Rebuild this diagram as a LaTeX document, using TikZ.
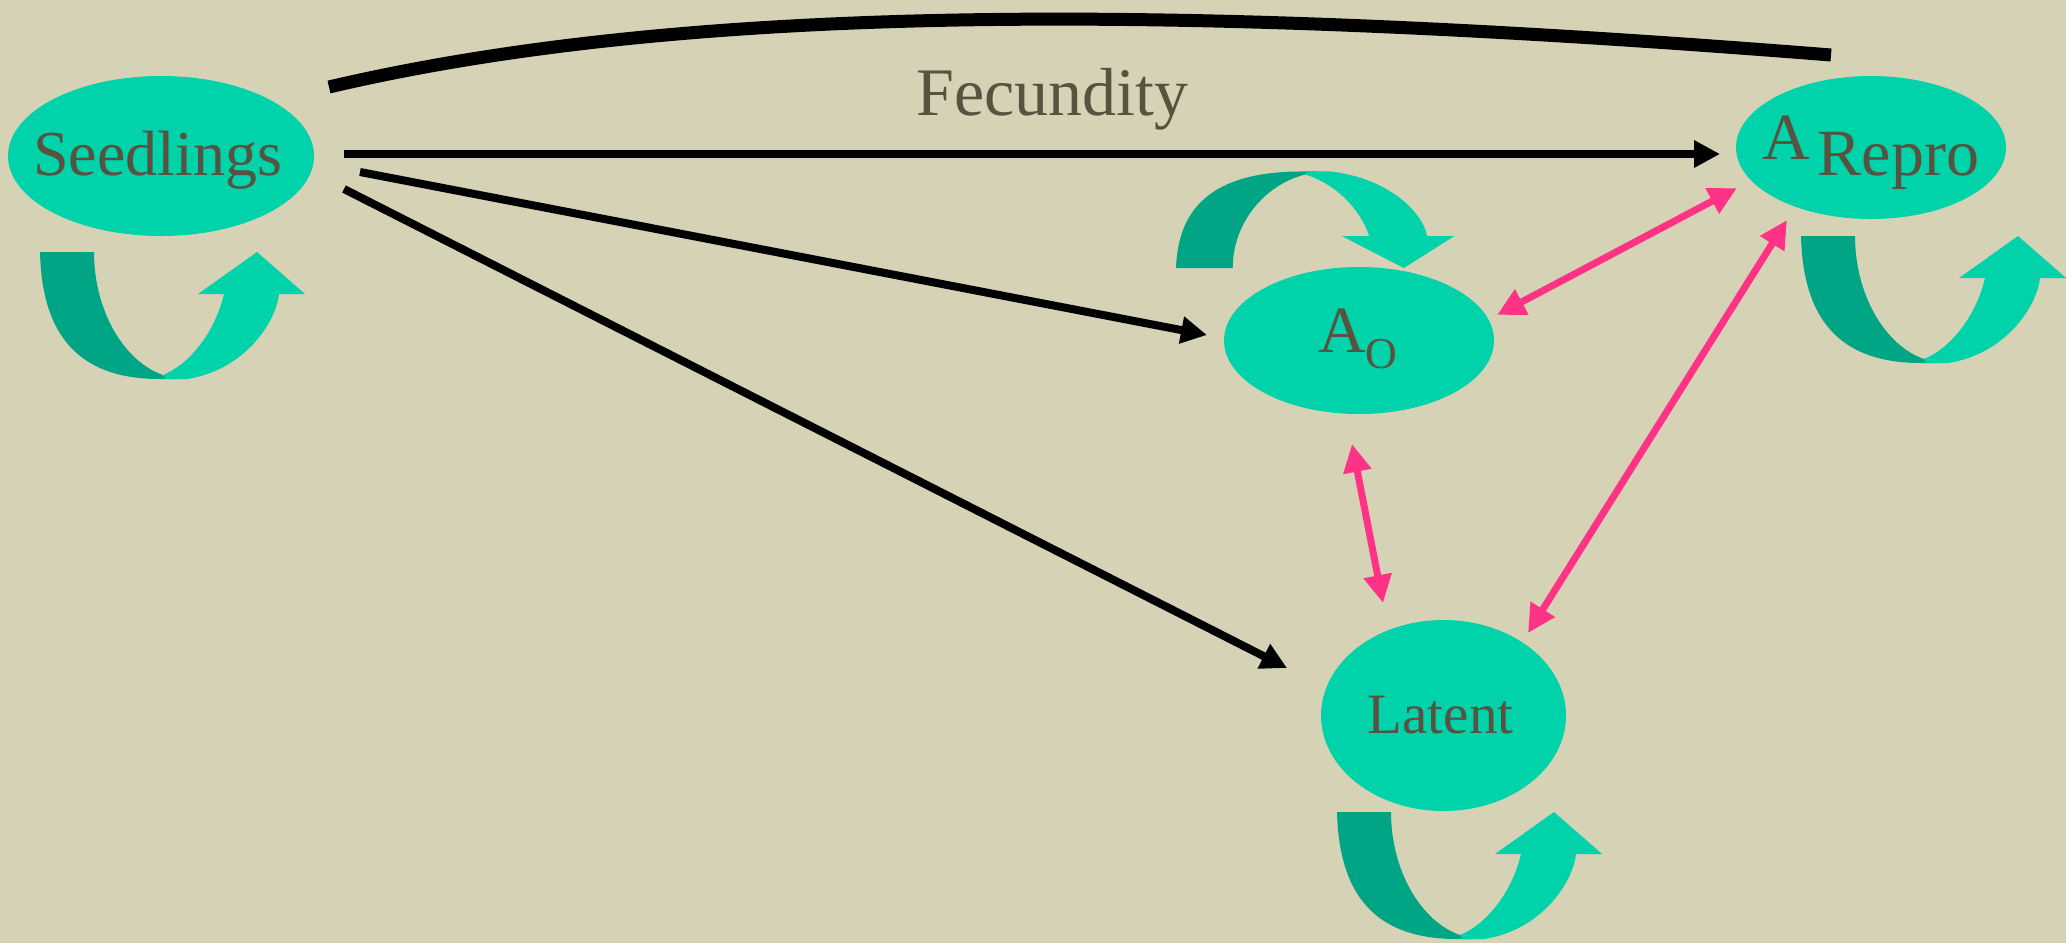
\documentclass[tikz,border=0pt]{standalone}
\usepackage{fontspec}
\setmainfont{Liberation Serif}
\usetikzlibrary{shapes.geometric,arrows.meta}

\definecolor{bgpaper}{RGB}{213,210,182}
\definecolor{tealfront}{RGB}{0,210,170}
\definecolor{tealback}{RGB}{0,165,133}
\definecolor{inkolive}{RGB}{88,83,64}
\definecolor{hotpink}{RGB}{255,51,133}

\tikzset{
  state/.style={ellipse, fill=tealfront, draw=none, inner sep=0pt, outer sep=0pt},
  lbl/.style={text=inkolive, inner sep=0pt, outer sep=0pt, anchor=base},
  flow/.style={draw=black, line width=8pt, -{Triangle[length=26pt,width=26pt]}},
  link/.style={draw=hotpink, line width=7pt,
    {Triangle[length=28pt,width=27pt]}-{Triangle[length=28pt,width=27pt]}},
  % U-turn arrow: dark back half, light front half with the head
  selfloop/.pic={
    \fill[tealback] (0,0) -- (54,0) .. controls (54,60) and (85,110) .. (123,123)
      -- (135,127) -- (120,127) .. controls (40,127) and (2,85) .. (0,0) -- cycle;
    \fill[tealfront] (123,123) .. controls (150,112) and (175,80) .. (184,42)
      -- (158,42) -- (217,0) -- (265,42) -- (239,42)
      .. controls (236,70) and (205,118) .. (147,127) -- (126,127) -- cycle;
  }
}

\begin{document}
\begin{tikzpicture}[x=1pt,y=-1pt]
  \fill[bgpaper] (0,0) rectangle (2066,943);
  \useasboundingbox (0,0) rectangle (2066,943);

  % states
  \node[state, minimum width=306pt, minimum height=160pt] (seed)   at (161,156) {};
  \node[state, minimum width=270pt, minimum height=147pt] (ao)     at (1359,340.5) {};
  \node[state, minimum width=270pt, minimum height=143pt] (repro)  at (1871,147.5) {};
  \node[state, minimum width=245pt, minimum height=191pt] (latent) at (1443.5,715.5) {};

  % state names
  \node[lbl, font=\fontsize{64}{64}\selectfont] (seedtxt) at (157.5,175) {Seedlings};
  \node[lbl, font=\fontsize{66}{66}\selectfont] (aotxt) at (1358,352)
    {A\raisebox{-16pt}{\fontsize{44}{44}\selectfont O}};
  \node[lbl, font=\fontsize{66}{66}\selectfont] (reprotxt) at (1870.5,159)
    {A\hspace{8pt}\raisebox{-16pt}{Repro}};
  \node[lbl, font=\fontsize{57}{57}\selectfont] (latenttxt) at (1440.5,733) {Latent};

  % self-transitions
  \pic at (40,252) {selfloop};
  \pic at (1801,236) {selfloop};
  \pic at (1337,812) {selfloop};
  \pic[xscale=1.05, yscale=-0.76] at (1176,268) {selfloop};

  % fecundity
  \coordinate (arcL) at (329,87);
  \coordinate (arcR) at (1831,55);
  \draw[line width=13pt] (arcL) .. controls (700,0) and (1200,5) .. (arcR);
  \node[lbl, font=\fontsize{68}{68}\selectfont] (fectxt) at (1052.5,115) {Fecundity};

  % growth transitions
  \draw[flow] ([shift={(183,-2)}]seed.center) -- ([shift={(-151,6.5)}]repro.center);
  \draw[flow] ([shift={(199,16)}]seed.center) -- ([shift={(-152,-5.5)}]ao.center);
  \draw[flow] ([shift={(183,33)}]seed.center) -- ([shift={(-156.5,-47.5)}]latent.center);

  % exchanges between adult states
  \draw[link] ([shift={(138,-25.5)}]ao.center) -- ([shift={(-134,40.5)}]repro.center);
  \draw[link] ([shift={(-7,103.5)}]ao.center) -- ([shift={(-60.5,-112.5)}]latent.center);
  \draw[link] ([shift={(-84,72.5)}]repro.center) -- ([shift={(84.5,-82.5)}]latent.center);
\end{tikzpicture}
\end{document}
